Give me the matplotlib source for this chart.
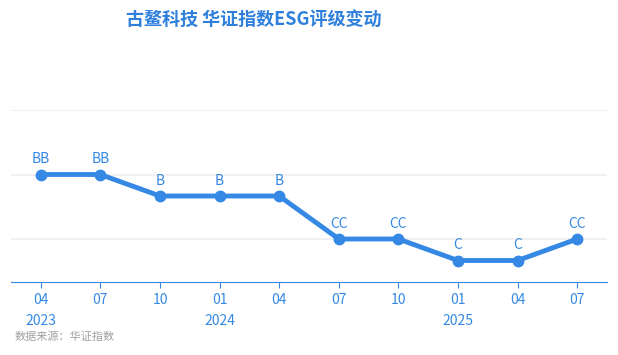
import matplotlib
matplotlib.use('Agg')
from matplotlib import pyplot as plt

plt.rcParams['font.family'] = ['Noto Sans CJK SC', 'DejaVu Sans']

# ESG ratings per quarter
months = ['04', '07', '10', '01', '04', '07', '10', '01', '04', '07']
years = {0: '2023', 3: '2024', 7: '2025'}
ratings = ['BB', 'BB', 'B', 'B', 'B', 'CC', 'CC', 'C', 'C', 'CC']
scale = {'C': 1, 'CC': 2, 'CCC': 3, 'B': 4, 'BB': 5}

blue = '#3589e4'
xs = list(range(len(months)))
ys = [scale[r] for r in ratings]

fig = plt.figure(figsize=(6.18, 3.55), dpi=100)
ax = fig.add_axes([11/618, 73/355, 596/618, 172/355])

ax.plot(xs, ys, color=blue, lw=3.5, marker='o', ms=7.5, zorder=3)
for x, y, r in zip(xs, ys, ratings):
    ax.annotate(r, (x, y), xytext=(0, 6), textcoords='offset points',
                ha='center', va='bottom', color=blue, fontsize=10)

ax.set_xlim(-0.5, len(months) - 0.5)
ax.set_ylim(0, 8)
ax.set_yticks([2, 5, 8])
ax.yaxis.grid(True, color='#eeeeee', lw=1.2)
ax.tick_params(axis='y', length=0, labelleft=False)
ax.set_xticks(xs)
ax.set_xticklabels(months, color=blue, fontsize=10)
ax.tick_params(axis='x', color=blue, length=4, pad=4)
for s in ['top', 'right', 'left']:
    ax.spines[s].set_visible(False)
ax.spines['bottom'].set_color(blue)
ax.set_axisbelow(True)

for i, yr in years.items():
    ax.text(i, -0.185, yr, transform=ax.get_xaxis_transform(), ha='center', va='top',
            color=blue, fontsize=10)

fig.text(254/618, 1 - 20/355, '古鳌科技 华证指数ESG评级变动', ha='center', va='center',
         color='#2f80dc', fontsize=13, fontweight='bold')
fig.text(15/618, 1 - 337/355, '数据来源：华证指数', ha='left', va='center',
         color='#a0a0a0', fontsize=8)

fig.savefig('out.png', dpi=100)
